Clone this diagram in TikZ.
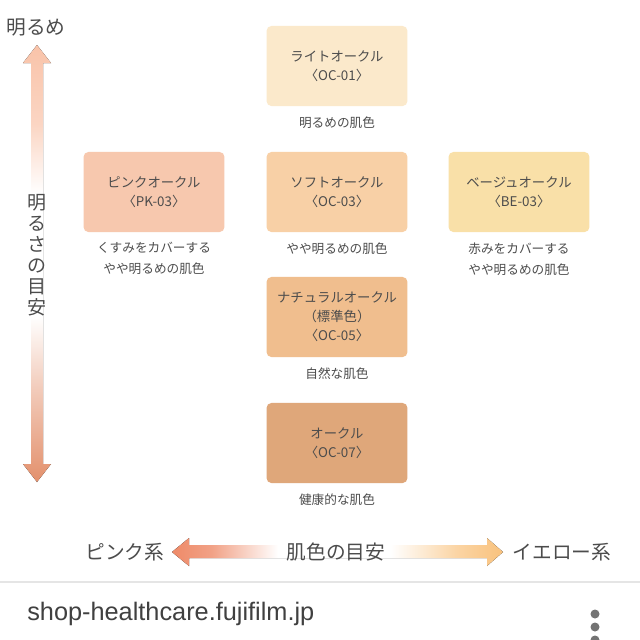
\documentclass[tikz,border=0pt]{standalone}
\usepackage{fontspec}
\setmainfont{Noto Sans CJK JP}
\newfontfamily\urlfont{Liberation Sans}
\usetikzlibrary{positioning}
\definecolor{inkgray}{HTML}{4C4C4C}
\definecolor{toneLight}{HTML}{FBE9CB}
\definecolor{tonePink}{HTML}{F7C8AE}
\definecolor{toneSoft}{HTML}{F8D0A6}
\definecolor{toneBeige}{HTML}{F9E0A8}
\definecolor{toneNatural}{HTML}{F0BE8E}
\definecolor{toneOchre}{HTML}{DFA77A}
\definecolor{axisTop}{HTML}{F9C3A9}
\definecolor{axisBottom}{HTML}{E3906C}
\definecolor{axisLeft}{HTML}{EE8A68}
\definecolor{axisRight}{HTML}{F9C27D}
\pgfdeclareverticalshading{brightshade}{100bp}{color(0bp)=(axisBottom); color(25bp)=(axisBottom);
  color(36bp)=(axisBottom!45!white); color(44bp)=(white); color(58bp)=(white);
  color(66bp)=(axisTop!70!white); color(75bp)=(axisTop); color(100bp)=(axisTop)}
\pgfdeclarehorizontalshading{hueshade}{100bp}{color(0bp)=(axisLeft); color(25bp)=(axisLeft);
  color(31bp)=(axisLeft!80!white); color(41bp)=(white); color(58bp)=(white);
  color(68bp)=(axisRight!70!white); color(75bp)=(axisRight); color(100bp)=(axisRight)}
\tikzset{
  tone/.style={rounded corners=.12cm,minimum width=3.52cm,minimum height=2cm,
    align=center,text=inkgray,font=\fontsize{9.5}{13.5}\selectfont,inner sep=0pt},
  caption/.style={align=center,text=inkgray,font=\fontsize{9}{14.8}\selectfont,inner sep=0pt},
  axislabel/.style={text=inkgray,font=\fontsize{14}{16}\selectfont,inner sep=0pt}
}
\begin{document}
\begin{tikzpicture}[x=0.025cm,y=-0.025cm]
  \useasboundingbox[fill=white] (0,0) rectangle (640,640);
  % shade boxes
  \node[tone,fill=toneLight] (oc01) at (337,66) {ライトオークル\\〈OC-01〉};
  \node[tone,fill=tonePink] (pk03) at (154,192) {ピンクオークル\\〈PK-03〉};
  \node[tone,fill=toneSoft] (oc03) at (337,192) {ソフトオークル\\〈OC-03〉};
  \node[tone,fill=toneBeige] (be03) at (519,192) {ベージュオークル\\〈BE-03〉};
  \node[tone,fill=toneNatural] (oc05) at (337,317) {ナチュラルオークル\\（標準色）\\〈OC-05〉};
  \node[tone,fill=toneOchre] (oc07) at (337,443) {オークル\\〈OC-07〉};
  % captions
  \node[caption,below=.25cm of oc01] (c01) {明るめの肌色};
  \node[caption,below=.25cm of pk03] (cpk) {くすみをカバーする\\やや明るめの肌色};
  \node[caption,below=.25cm of oc03] (c03) {やや明るめの肌色};
  \node[caption,below=.25cm of be03] (cbe) {赤みをカバーする\\やや明るめの肌色};
  \node[caption,below=.25cm of oc05] (c05) {自然な肌色};
  \node[caption,below=.25cm of oc07] (c07) {健康的な肌色};
  % brightness axis
  \fill[shading=brightshade]
    (37,45)--(23,63)--(31,63)--(31,464)--(23,464)--(37,482)--(51,464)--(43,464)--(43,63)--(51,63)--cycle;
  \node[axislabel] (bright) at (36,28) {明るめ};
  \node[axislabel,align=center,font=\fontsize{13.5}{15}\selectfont] (brightaxis) at (37,255) {明\\る\\さ\\の\\目\\安};
  % hue axis
  \fill[shading=hueshade]
    (172,552)--(189,538)--(189,545)--(487,545)--(487,538)--(503,552)--(487,566)--(487,558)--(189,558)--(189,566)--cycle;
  \node[axislabel] (pink) at (125,552) {ピンク系};
  \node[axislabel] (hue) at (336,552) {肌色の目安};
  \node[axislabel] (yellow) at (562,552) {イエロー系};
  % page footer
  \draw[black!10,line width=.05cm] (0,582)--(640,582);
  \node[anchor=west,text=black!75,font=\urlfont\fontsize{18}{20}\selectfont,inner sep=0pt] (url) at (27,614) {shop-healthcare.fujifilm.jp};
  \foreach \y in {614,627,640}
    \fill[black!55] (595,\y) circle (4.5);
\end{tikzpicture}
\end{document}
